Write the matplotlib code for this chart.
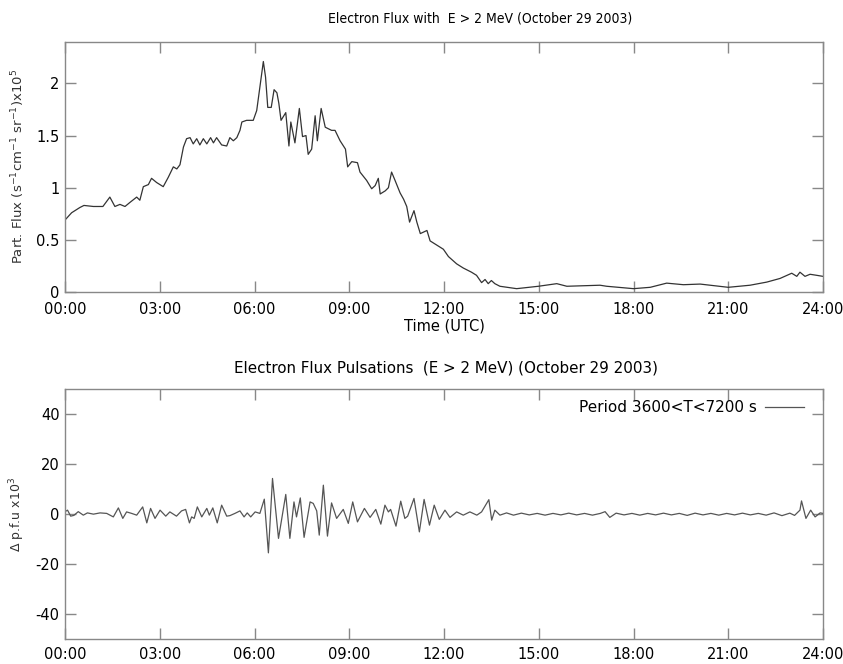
import matplotlib
matplotlib.use("Agg")
import matplotlib.pyplot as plt
import numpy as np

# ---------------- data ----------------
flux_hours = [0.0, 0.21, 0.47, 0.6, 0.9, 1.2, 1.42, 1.58, 1.74, 1.9, 2.06, 2.27, 2.37, 2.48, 2.64,
              2.74, 2.9, 3.11, 3.27, 3.43, 3.54, 3.64, 3.75, 3.85, 3.96, 4.06, 4.17, 4.27, 4.38,
              4.49, 4.61, 4.70, 4.80, 4.96, 5.12, 5.22, 5.33, 5.44, 5.54, 5.6, 5.75, 5.96, 6.07,
              6.28, 6.35, 6.42, 6.53, 6.62, 6.71, 6.77, 6.84, 6.99, 7.09, 7.15, 7.28, 7.42,
              7.52, 7.63, 7.70, 7.81, 7.92, 7.99, 8.11, 8.24, 8.44, 8.55, 8.71, 8.88, 8.95,
              9.08, 9.26, 9.34, 9.55, 9.71, 9.82, 9.92, 9.98, 10.14, 10.24, 10.34, 10.45,
              10.61, 10.72, 10.82, 10.91, 11.05, 11.14, 11.25, 11.46, 11.56, 11.77, 11.98,
              12.14, 12.40, 12.61, 12.87, 13.03, 13.19, 13.30, 13.40, 13.50, 13.61, 13.77,
              14.30, 14.99, 15.57, 15.89, 16.94, 17.15, 18.0, 18.53, 19.05, 19.58, 20.11,
              21.0, 21.69, 22.22, 22.64, 23.01, 23.17, 23.27, 23.43, 23.59, 23.8, 24.0]
flux_values = [0.69, 0.76, 0.81, 0.83, 0.82, 0.82, 0.91, 0.82, 0.84, 0.82, 0.86, 0.91, 0.88, 1.01, 1.03,
               1.09, 1.05, 1.01, 1.10, 1.20, 1.18, 1.22, 1.39, 1.47, 1.48, 1.42, 1.47, 1.41, 1.47,
               1.42, 1.48, 1.43, 1.48, 1.41, 1.40, 1.48, 1.45, 1.48, 1.55, 1.63, 1.646, 1.646, 1.74,
               2.21, 2.06, 1.77, 1.77, 1.94, 1.91, 1.81, 1.646, 1.72, 1.40, 1.63, 1.43, 1.76,
               1.49, 1.50, 1.32, 1.37, 1.69, 1.45, 1.76, 1.58, 1.55, 1.55, 1.45, 1.37, 1.20,
               1.25, 1.24, 1.15, 1.07, 0.99, 1.02, 1.09, 0.94, 0.97, 1.00, 1.15, 1.07,
               0.95, 0.89, 0.82, 0.67, 0.78, 0.67, 0.56, 0.59, 0.49, 0.45, 0.41,
               0.34, 0.27, 0.23, 0.19, 0.16, 0.09, 0.12, 0.08, 0.11, 0.08, 0.055,
               0.032, 0.055, 0.08, 0.055, 0.065, 0.055, 0.032, 0.045, 0.085, 0.07, 0.076,
               0.045, 0.065, 0.095, 0.13, 0.18, 0.15, 0.19, 0.15, 0.17, 0.16, 0.15]

puls_hours = [0.0, 0.08, 0.18, 0.28, 0.42, 0.58, 0.71, 0.9, 1.11, 1.32, 1.53, 1.69, 1.83, 1.95,
              2.11, 2.27, 2.46, 2.59, 2.71, 2.85, 3.01, 3.19, 3.32, 3.53, 3.69, 3.82, 3.94,
              4.01, 4.09, 4.19, 4.33, 4.49, 4.57, 4.68, 4.82, 4.96, 5.12, 5.22, 5.38, 5.54,
              5.67, 5.77, 5.88, 6.02, 6.17, 6.31, 6.44, 6.57, 6.76, 6.99, 7.12, 7.25, 7.33,
              7.45, 7.57, 7.76, 7.86, 7.97, 8.05, 8.18, 8.31, 8.44, 8.60, 8.81, 8.97, 9.11,
              9.26, 9.48, 9.66, 9.84, 10.0, 10.13, 10.24, 10.31, 10.48, 10.63, 10.76, 10.85,
              11.05, 11.22, 11.37, 11.54, 11.69, 11.85, 12.03, 12.19, 12.4, 12.61, 12.82,
              13.04, 13.19, 13.42, 13.51, 13.61, 13.77, 13.98, 14.2, 14.45, 14.7, 14.95,
              15.2, 15.45, 15.7, 15.95, 16.2, 16.45, 16.7, 16.95, 17.1, 17.25, 17.45, 17.7,
              17.95, 18.2, 18.45, 18.7, 18.95, 19.2, 19.45, 19.7, 19.95, 20.2, 20.45, 20.7,
              20.95, 21.2, 21.45, 21.7, 21.95, 22.2, 22.45, 22.7, 22.95, 23.1, 23.27, 23.32,
              23.46, 23.61, 23.75, 23.91, 24.0]
puls_values = [1.0, 1.6, -0.8, -0.5, 1.0, -0.4, 0.5, 0.0, 0.5, 0.3, -1.1, 2.5, -1.7, 0.9,
               0.3, -0.4, 2.9, -3.5, 2.3, -1.7, 1.6, -0.8, 0.9, -0.8, 1.3, 1.9, -3.5,
               -1.1, -1.7, 2.9, -1.1, 2.3, -0.4, 2.5, -3.5, 3.6, -0.8, -0.6, 0.3, 1.3,
               -1.1, 0.5, -1.1, 0.9, 0.3, 6.0, -15.5, 14.3, -9.7, 7.9, -9.7, 4.9, -1.1,
               6.5, -9.3, 4.9, 4.3, 1.3, -8.4, 11.6, -8.8, 4.5, -1.7, 1.9, -3.7, 4.9,
               -3.1, 2.3, -1.3, 1.9, -4.0, 3.6, 0.9, 1.9, -4.8, 5.2, -1.7, -0.8,
               6.3, -7.1, 5.9, -4.4, 3.6, -2.1, 1.6, -1.3, 0.9, -0.4, 0.9,
               -0.4, 0.9, 5.8, -2.4, 1.6, -0.4, 0.5, -0.4, 0.4, -0.3, 0.3,
               -0.4, 0.3, -0.3, 0.4, -0.3, 0.3, -0.4, 0.3, 1.0, -1.3, 0.4, -0.3,
               0.3, -0.4, 0.3, -0.3, 0.4, -0.3, 0.3, -0.5, 0.4, -0.3, 0.3, -0.4,
               0.3, -0.3, 0.4, -0.3, 0.3, -0.4, 0.5, -0.6, 0.4, -0.5, 1.6, 5.3,
               -1.7, 1.6, -1.1, 0.5, 0.3]

xtick_hours = [0, 3, 6, 9, 12, 15, 18, 21, 24]
xtick_labels = ["00:00", "03:00", "06:00", "09:00", "12:00", "15:00", "18:00", "21:00", "24:00"]
flux_yticks = [0, 0.5, 1, 1.5, 2]
flux_yticklabels = ["0", "0.5", "1", "1.5", "2"]
puls_yticks = [-40, -20, 0, 20, 40]

# ---------------- figure ----------------
W, H = 843, 664
plt.rcParams['font.family'] = ['DejaVu Sans']
plt.rcParams['axes.unicode_minus'] = False
fig = plt.figure(figsize=(W / 100, H / 100), dpi=100)

spine_col = '#888888'
AXW = 823 - 65

def style(ax):
    for s in ax.spines.values():
        s.set_color(spine_col)
        s.set_linewidth(1.0)
    ax.tick_params(direction='in', length=8, width=1.0, color=spine_col,
                   top=True, right=True, labelsize=10.5, labelcolor='black', pad=4)
    ax.set_xlim(0, 24)
    ax.set_xticks(xtick_hours)
    ax.set_xticklabels(xtick_labels)

# top axes
ax1 = fig.add_axes([65 / W, 1 - 292 / H, AXW / W, (292 - 41.7) / H])
style(ax1)
ax1.plot(flux_hours, flux_values, color='#333333', lw=0.9)
ax1.set_ylim(0, 2.4)
ax1.set_yticks(flux_yticks)
ax1.set_yticklabels(flux_yticklabels)
ax1.tick_params(axis='x', pad=7)
ax1.set_ylabel(r"Part. Flux (s$^{\mathregular{-1}}$cm$^{\mathregular{-1}}$ sr$^{\mathregular{-1}}$)x10$^{\mathregular{5}}$",
               fontsize=9.5, color='#333333')
ax1.yaxis.set_label_coords(-(65 - 27) / AXW, 0.5)
ax1.set_xlabel("Time (UTC)", fontsize=10.5, labelpad=1)
fig.text(480 / W, 1 - 18 / H, "Electron Flux with  E > 2 MeV (October 29 2003)",
         ha='center', va='center', fontsize=10, fontstretch='condensed')

# bottom axes
ax2 = fig.add_axes([65 / W, 1 - 639 / H, AXW / W, (639 - 389.3) / H])
style(ax2)
ax2.plot(puls_hours, puls_values, color='#555555', lw=0.9, label="Period 3600<T<7200 s")
ax2.set_ylim(-50, 50)
ax2.set_yticks(puls_yticks)
ax2.set_ylabel(r"$\Delta$ p.f.u x10$^{\mathregular{3}}$", fontsize=9, color='#333333')
ax2.yaxis.set_label_coords(-(65 - 27) / AXW, 0.5)
ax2.tick_params(axis='x', pad=6)
leg = ax2.legend(loc='upper right', frameon=False, markerfirst=False, fontsize=11,
                 handlelength=2.6, borderaxespad=0.3, handletextpad=0.5,
                 bbox_to_anchor=(1 - 8 / AXW, 1.0))
fig.text(446 / W, 1 - 368 / H, "Electron Flux Pulsations  (E > 2 MeV) (October 29 2003)",
         ha='center', va='center', fontsize=10.9)

fig.savefig("out.png", dpi=100)
